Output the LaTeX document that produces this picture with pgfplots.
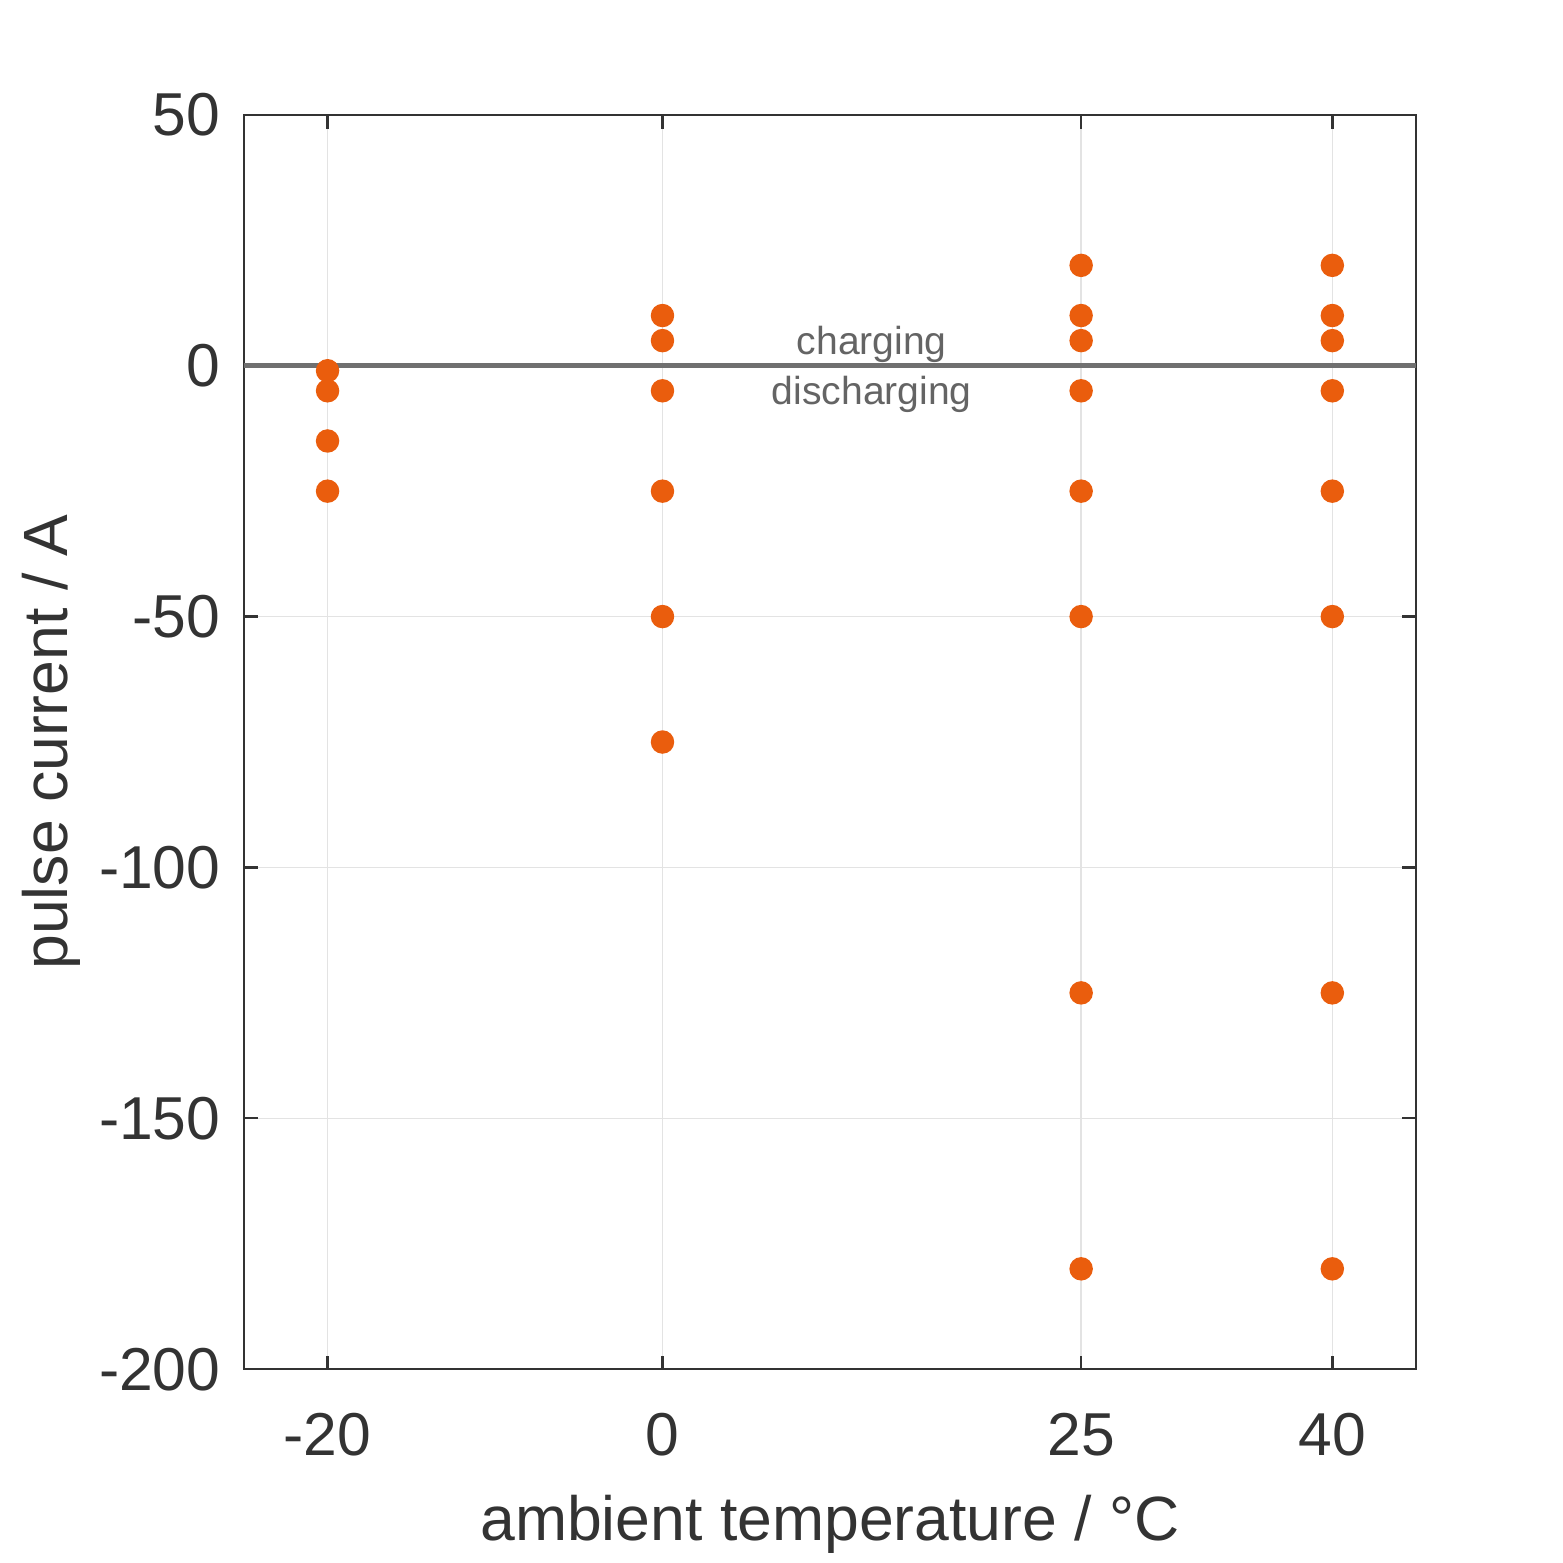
\documentclass[border=0pt]{standalone}
\usepackage{pgfplots}
\pgfplotsset{compat=1.18}
\usepackage{fontspec}
\setmainfont{Liberation Sans}
\definecolor{dotc}{HTML}{EA5D0D}
\definecolor{axc}{HTML}{333333}
\begin{document}
\begin{tikzpicture}
\begin{axis}[
  name=ax,
  width=300pt, height=321pt, scale only axis,
  xmin=-25, xmax=45, ymin=-200, ymax=50,
  xtick={-20,0,25,40}, ytick={-200,-150,-100,-50,0,50},
  tick align=inside, major tick length=3.5pt,
  every tick/.style={axc, line width=0.6pt},
  axis line style={axc, line width=0.6pt},
  grid=major, major grid style={gray!22, line width=0.4pt},
  ticklabel style={font=\fontsize{15.5}{18}\selectfont, text=axc},
  xticklabel style={yshift=-7.7pt},
  yticklabel style={xshift=-2.5pt},
  /pgf/number format/assume math mode=true,
  xlabel={ambient temperature / °C}, ylabel={pulse current / A},
  label style={font=\fontsize{16}{19}\selectfont, text=axc},
  xlabel style={inner sep=0pt, yshift=-6.5pt},
  ylabel style={yshift=-2pt},
  clip=false,
]
\addplot[draw={rgb,255:red,112;green,112;blue,112}, line width=1.2pt, forget plot] coordinates {(-25,0) (45,0)};
\addplot[only marks, mark=*, mark size=2.8pt, color=dotc] coordinates {
 (-20,-1) (-20,-5) (-20,-15) (-20,-25)
 (0,10) (0,5) (0,-5) (0,-25) (0,-50) (0,-75)
 (25,20) (25,10) (25,5) (25,-5) (25,-25) (25,-50) (25,-125) (25,-180)
 (40,20) (40,10) (40,5) (40,-5) (40,-25) (40,-50) (40,-125) (40,-180)
};
\node[text={rgb,255:red,100;green,100;blue,100}, font=\fontsize{10}{12}\selectfont, anchor=base] at (axis cs:12.5,2.3) {charging};
\node[text={rgb,255:red,100;green,100;blue,100}, font=\fontsize{10}{12}\selectfont, anchor=base] at (axis cs:12.5,-7.8) {discharging};
\end{axis}
\path (ax.south west) ++(-62.4pt,-49.6pt) coordinate (bl);
\path (ax.north east) ++(37.6pt,29.4pt) coordinate (tr);
\path (bl) rectangle (tr);
\end{tikzpicture}
\end{document}
